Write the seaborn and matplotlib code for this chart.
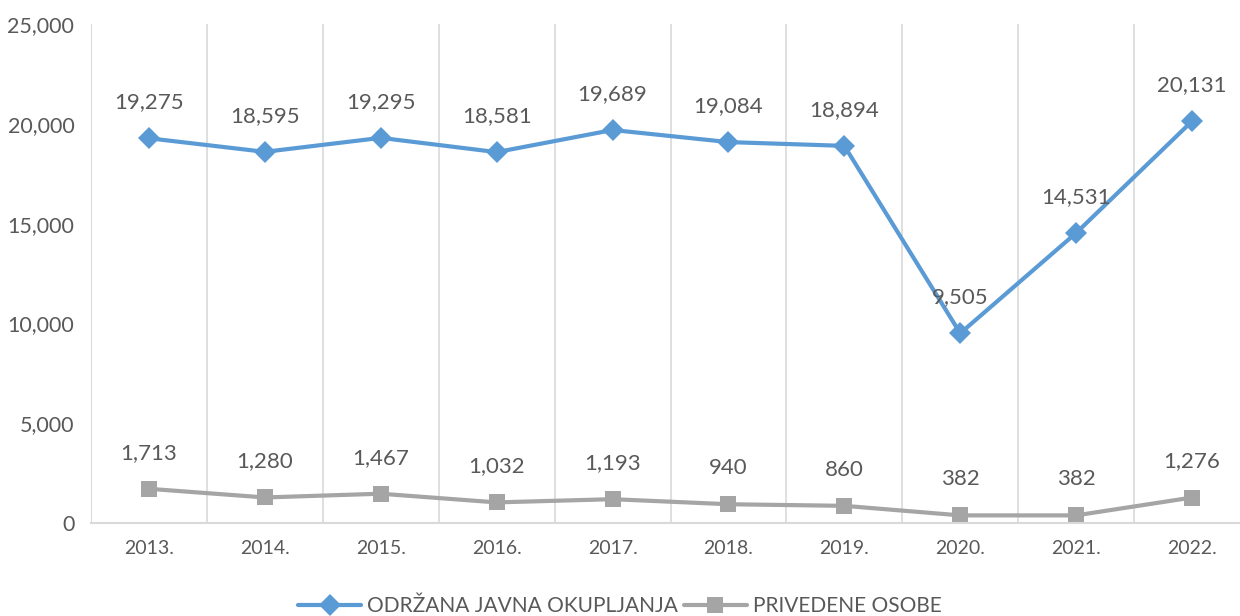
import matplotlib
matplotlib.use('Agg')
import matplotlib.pyplot as plt
import seaborn as sns
import pandas as pd

years = ['2013.', '2014.', '2015.', '2016.', '2017.', '2018.', '2019.', '2020.', '2021.', '2022.']
okupljanja = [19275, 18595, 19295, 18581, 19689, 19084, 18894, 9505, 14531, 20131]
privedene = [1713, 1280, 1467, 1032, 1193, 940, 860, 382, 382, 1276]
series_names = ['ODRŽANA JAVNA OKUPLJANJA', 'PRIVEDENE OSOBE']
y_ticks = [0, 5000, 10000, 15000, 20000, 25000]

BLUE = '#5B9BD5'
GRAY = '#A5A5A5'
TEXT = '#595959'

sns.set_style('white')
plt.rcParams['font.family'] = ['Lato', 'DejaVu Sans']

df = pd.DataFrame({
    'idx': list(range(len(years))) * 2,
    'value': okupljanja + privedene,
    'series': [series_names[0]] * len(years) + [series_names[1]] * len(years),
})

fig = plt.figure(figsize=(12.4, 6.16), dpi=100)
ax = fig.add_axes([91 / 1240, 93 / 616, 1159 / 1240, 499 / 616])

sns.lineplot(data=df, x='idx', y='value', hue='series', style='series',
             palette=[BLUE, GRAY], markers=['D', 's'], dashes=False,
             linewidth=3, markersize=11, markeredgewidth=0, ax=ax, legend=True)

for vals in (okupljanja, privedene):
    for i, v in enumerate(vals):
        ax.annotate(f'{v:,}', (i, v), xytext=(0, 26), textcoords='offset points',
                    ha='center', va='center', fontsize=16, color=TEXT)

ax.set_xlim(-0.5, len(years) - 0.5)
ax.set_ylim(0, 25000)
ax.set_yticks(y_ticks)
ax.set_yticklabels([f'{t:,}' for t in y_ticks], fontsize=15.5, color=TEXT)
ax.set_xticks(range(len(years)))
ax.set_xticklabels(years, fontsize=14, color=TEXT)
ax.tick_params(axis='both', length=0)
ax.tick_params(axis='x', pad=12)
ax.tick_params(axis='y', pad=12)
ax.set_xlabel('')
ax.set_ylabel('')

for b in [k + 0.5 for k in range(len(years) - 1)]:
    ax.axvline(b, color='#D9D9D9', linewidth=1.2, zorder=0)
ax.axvline(-0.5, color='#D9D9D9', linewidth=1.5, zorder=0)

for s in ['top', 'right', 'left']:
    ax.spines[s].set_visible(False)
ax.spines['bottom'].set_color('#D9D9D9')
ax.spines['bottom'].set_linewidth(1.5)

handles, labels = ax.get_legend_handles_labels()
ax.get_legend().remove()
fig.legend(handles, labels, loc='center', bbox_to_anchor=(0.5, 10 / 616),
           ncol=2, frameon=False, fontsize=15, labelcolor=TEXT,
           handlelength=3.0, handletextpad=0.3, columnspacing=0.3)

fig.savefig('out.png', dpi=100)
